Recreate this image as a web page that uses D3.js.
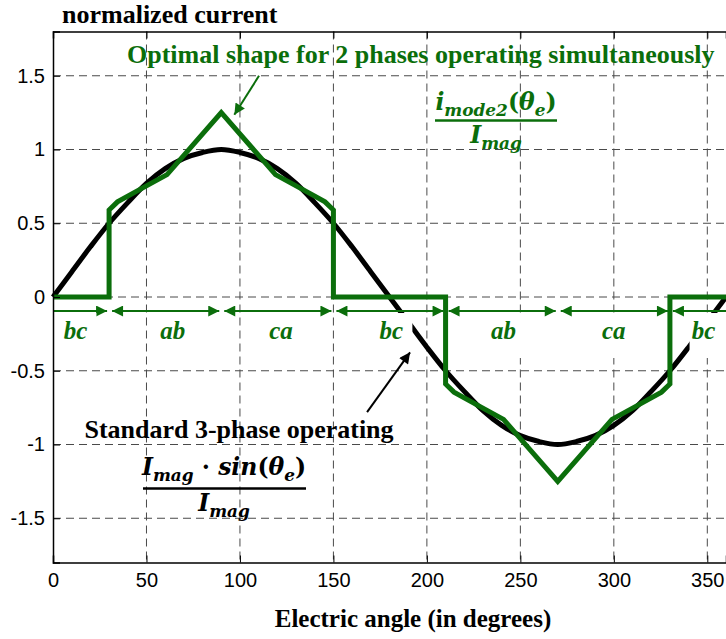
<!DOCTYPE html>
<html>
<head>
<meta charset="utf-8">
<script src="https://cdn.jsdelivr.net/npm/d3@7/dist/d3.min.js"></script>
<style>
  html, body { margin: 0; padding: 0; background: #fff; }
  svg { display: block; }
</style>
</head>
<body>
<svg id="chart" width="726" height="639"></svg>
<script>
// ---------- data ----------
const xTickValues = [0, 50, 100, 150, 200, 250, 300, 350];
const yTickValues = [1.5, 1, 0.5, 0, -0.5, -1, -1.5];
const yTickLabels = ["1.5", "1", "0.5", "0", "-0.5", "-1", "-1.5"];

// standard 3-phase operating (black), read every 10 degrees
const sineAngles = [0,10,20,30,40,50,60,70,80,90,100,110,120,130,140,150,160,170,180,
                    190,200,210,220,230,240,250,260,270,280,290,300,310,320,330,340,350,360];
const sineValues = [0,0.17,0.34,0.5,0.64,0.77,0.87,0.94,0.98,1,0.98,0.94,0.87,0.77,0.64,0.5,0.34,0.17,0,
                    -0.17,-0.34,-0.5,-0.64,-0.77,-0.87,-0.94,-0.98,-1,-0.98,-0.94,-0.87,-0.77,-0.64,-0.5,-0.34,-0.17,0];

// optimal shape for 2 phases (green)
const optAngles = [0,30,30,34.5,48,61,90,119,132,145.5,150,150,
                   210,210,214.5,228,241,270,299,312,325.5,330,330,360];
const optValues = [0,0,0.59,0.645,0.74,0.83,1.25,0.83,0.74,0.645,0.59,0,
                   0,-0.59,-0.645,-0.74,-0.83,-1.25,-0.83,-0.74,-0.645,-0.59,0,0];

// conducting phase pairs
const phaseNames  = ["bc","ab","ca","bc","ab","ca","bc"];
const phaseStart  = [0,30,90,150,210,270,330];
const phaseEnd    = [30,90,150,210,270,330,360];
const phaseLabelAt = [12,64,122,181,241,300,348];

// ---------- layout ----------
const svg = d3.select("#chart");
const x = d3.scaleLinear().domain([0, 360]).range([53, 726]);
const y = d3.scaleLinear().domain([-1.8, 1.8]).range([562.5, 31.5]);
const GREEN = "#0b6e0b";
const SERIF = "'Liberation Serif','Times New Roman',serif";
const MATH = "'DejaVu Serif',serif";

// arrow markers
const defs = svg.append("defs");
function marker(id, color, w, h) {
  defs.append("marker").attr("id", id).attr("viewBox", "0 0 10 10")
    .attr("refX", 10).attr("refY", 5).attr("markerWidth", w).attr("markerHeight", h)
    .attr("markerUnits", "userSpaceOnUse").attr("orient", "auto-start-reverse")
    .append("path").attr("d", "M0,0 L10,5 L0,10 Z").attr("fill", color);
}
marker("gHead", GREEN, 13, 11);
marker("kHead", "#000", 13, 11);

// grid
const grid = svg.append("g").attr("stroke", "#4a4a4a").attr("stroke-width", 1)
  .attr("stroke-dasharray", "8,5").attr("fill", "none");
xTickValues.filter(d => d > 0).forEach(d => {
  grid.append("line").attr("x1", x(d)).attr("x2", x(d)).attr("y1", y(1.8)).attr("y2", y(-1.8));
});
yTickValues.forEach(d => {
  grid.append("line").attr("x1", x(0)).attr("x2", x(360)).attr("y1", y(d)).attr("y2", y(d));
});

// curves
svg.append("path")
  .datum(sineAngles.map((a, i) => [a, sineValues[i]]))
  .attr("d", d3.line().x(d => x(d[0])).y(d => y(d[1])).curve(d3.curveCatmullRom))
  .attr("fill", "none").attr("stroke", "#000").attr("stroke-width", 5);

svg.append("path")
  .datum(optAngles.map((a, i) => [a, optValues[i]]))
  .attr("d", d3.line().x(d => x(d[0])).y(d => y(d[1])))
  .attr("fill", "none").attr("stroke", GREEN).attr("stroke-width", 5)
  .attr("stroke-linejoin", "miter");

// phase interval arrows and labels
const arrowVal = -0.095;
const labelVal = -0.285;
phaseNames.forEach((name, i) => {
  const x1 = x(phaseStart[i]) + (phaseStart[i] > 0 ? 3 : 0);
  const x2 = x(phaseEnd[i]) - (phaseEnd[i] < 360 ? 2 : 0);
  const ln = svg.append("line").attr("x1", x1).attr("x2", x2)
    .attr("y1", y(arrowVal)).attr("y2", y(arrowVal))
    .attr("stroke", GREEN).attr("stroke-width", 2);
  if (phaseStart[i] > 0) ln.attr("marker-start", "url(#gHead)");
  if (phaseEnd[i] < 360) ln.attr("marker-end", "url(#gHead)");
  const cx = x(phaseLabelAt[i]);
  svg.append("rect").attr("x", cx - 14).attr("y", y(arrowVal) + 2)
    .attr("width", 35).attr("height", 45).attr("fill", "#fff");
  svg.append("text").attr("x", cx).attr("y", y(labelVal))
    .attr("text-anchor", "middle").attr("font-family", SERIF)
    .attr("font-weight", "bold").attr("font-style", "italic")
    .attr("font-size", 25).attr("fill", GREEN).text(name);
});

// axes (inward ticks, box)
const xAxis = svg.append("g").attr("transform", `translate(0,${y(-1.8)})`)
  .call(d3.axisBottom(x).tickValues(xTickValues).tickSize(-7).tickPadding(10).tickFormat(d3.format("d")));
const xTop = svg.append("g").attr("transform", `translate(0,${y(1.8)})`)
  .call(d3.axisTop(x).tickValues(xTickValues).tickSize(-7).tickFormat(""));
const yAxis = svg.append("g").attr("transform", `translate(${x(0)},0)`)
  .call(d3.axisLeft(y).tickValues(yTickValues).tickSize(-7).tickPadding(8)
    .tickFormat((d, i) => yTickLabels[i]));
[xAxis, xTop, yAxis].forEach(g => {
  g.select(".domain").attr("stroke", "#000").attr("stroke-width", 1.5);
  g.selectAll(".tick line").attr("stroke", "#000");
  g.selectAll(".tick text").attr("font-family", "'Liberation Sans',Arial,sans-serif")
    .attr("font-size", 20).attr("fill", "#000");
});

// titles
svg.append("text").attr("x", 62).attr("y", 23)
  .attr("font-family", SERIF).attr("font-weight", "bold").attr("font-size", 26)
  .text("normalized current");
svg.append("text").attr("x", 413).attr("y", 627).attr("text-anchor", "middle")
  .attr("font-family", SERIF).attr("font-weight", "bold").attr("font-size", 25)
  .text("Electric angle (in degrees)");

// green annotation
svg.append("text").attr("x", 127).attr("y", 63)
  .attr("font-family", SERIF).attr("font-weight", "bold").attr("font-size", 26)
  .attr("fill", GREEN).text("Optimal shape for 2 phases operating simultaneously");
svg.append("line").attr("x1", x(110.2)).attr("y1", y(1.5)).attr("x2", x(97)).attr("y2", y(1.235))
  .attr("stroke", GREEN).attr("stroke-width", 2).attr("marker-end", "url(#gHead)");

function mathText(g, cx, baseline, parts, size, color) {
  const t = g.append("text").attr("x", cx).attr("y", baseline).attr("text-anchor", "middle")
    .attr("font-family", MATH).attr("font-weight", "bold").attr("font-style", "italic")
    .attr("fill", color).attr("font-size", size);
  let shift = 0;
  parts.forEach(p => {
    const s = t.append("tspan").text(p.t);
    const target = p.sub ? 6 : 0;
    s.attr("dy", target - shift);
    shift = target;
    if (p.sub) s.attr("font-size", size * 0.72);
    if (p.up) s.attr("font-style", "normal");
  });
  return t;
}
const gm = svg.append("g");
mathText(gm, 496, 110, [{t:"i"},{t:"mode2",sub:true},{t:"(",up:true},{t:"θ"},{t:"e",sub:true},{t:")",up:true}], 23.5, GREEN);
gm.append("line").attr("x1", 435).attr("x2", 557).attr("y1", 120.5).attr("y2", 120.5)
  .attr("stroke", GREEN).attr("stroke-width", 2.5);
mathText(gm, 496, 143, [{t:"I"},{t:"mag",sub:true}], 23.5, GREEN);

// black annotation
svg.append("text").attr("x", 239).attr("y", 438).attr("text-anchor", "middle")
  .attr("font-family", SERIF).attr("font-weight", "bold").attr("font-size", 26)
  .text("Standard 3-phase operating");
mathText(gm, 224, 475, [{t:"I"},{t:"mag",sub:true},{t:" · ",up:true},{t:"sin"},{t:"(",up:true},{t:"θ"},{t:"e",sub:true},{t:")",up:true}], 23.5, "#000");
gm.append("line").attr("x1", 143).attr("x2", 306).attr("y1", 488.5).attr("y2", 488.5)
  .attr("stroke", "#000").attr("stroke-width", 2.5);
mathText(gm, 224, 511, [{t:"I"},{t:"mag",sub:true}], 23.5, "#000");
svg.append("line").attr("x1", x(168)).attr("y1", y(-0.78)).attr("x2", x(191)).attr("y2", y(-0.375))
  .attr("stroke", "#000").attr("stroke-width", 2).attr("marker-end", "url(#kHead)");
</script>
</body>
</html>
